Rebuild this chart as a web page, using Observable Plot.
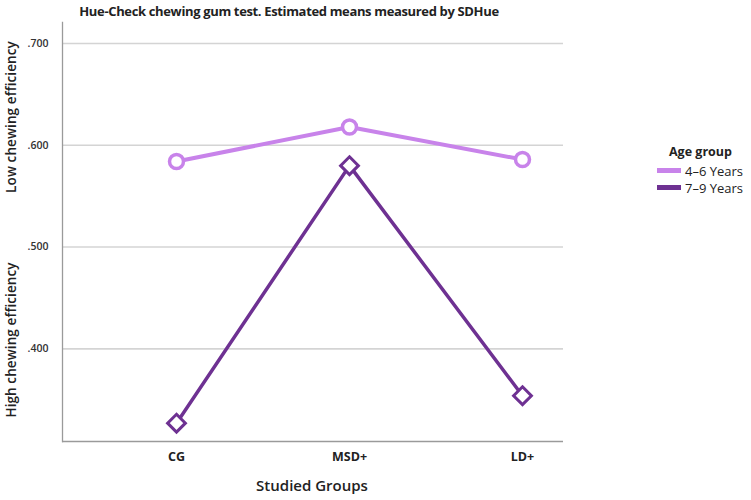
<!DOCTYPE html>
<html>
<head>
<meta charset="utf-8">
<script src="https://cdn.jsdelivr.net/npm/d3@7"></script>
<script src="https://cdn.jsdelivr.net/npm/@observablehq/plot@0.6"></script>
<style>
  html, body { margin: 0; padding: 0; background: #fff; }
  #wrap { position: relative; width: 751px; height: 500px; font-family: "Open Sans", sans-serif; color: #222; }
  #wrap svg { position: absolute; left: 0; top: 0; }
  .t { position: absolute; white-space: nowrap; font-weight: 600; }
  #title { left: 289px; top: 2px; transform: translateX(-50%); font-size: 13px; letter-spacing: -0.35px; font-weight: 700; }
  #xtitle { left: 312px; top: 475px; transform: translateX(-50%); font-size: 15px; }
  .ylab { font-size: 13.5px; letter-spacing: 0.1px; transform: translate(-50%, -50%) rotate(-90deg); left: 11px; }
  #legend { position: absolute; left: 657px; top: 143px; font-size: 13px; }
  #legend .lt { font-weight: 700; font-size: 12.5px; margin-left: 12px; margin-bottom: 2px; }
  #legend .it { display: flex; align-items: center; height: 17px; }
  #legend .sw { width: 24px; height: 5px; margin-right: 4px; }
</style>
</head>
<body>
<div id="wrap">
  <div class="t" id="title">Hue-Check chewing gum test. Estimated means measured by SDHue</div>
  <div class="t ylab" style="top:117px">Low chewing efficiency</div>
  <div class="t ylab" style="top:340px">High chewing efficiency</div>
  <div class="t" id="xtitle">Studied Groups</div>
  <div id="legend"></div>
</div>
<script>
const groups = ["CG", "MSD+", "LD+"];
const series = ["4-6 Years", "7-9 Years"];
const values46 = [0.584, 0.618, 0.586];
const values79 = [0.327, 0.580, 0.354];
const colors = ["#c883ea", "#6e3192"];
const yTicks = [0.4, 0.5, 0.6, 0.7];
const yTickLabels = [".400", ".500", ".600", ".700"];

const data = [];
groups.forEach((g, i) => {
  data.push({group: g, age: series[0], value: values46[i]});
  data.push({group: g, age: series[1], value: values79[i]});
});
const d46 = data.filter(d => d.age === series[0]);
const d79 = data.filter(d => d.age === series[1]);

const W = 751, H = 500;
const mL = 62, mR = 188, mT = 22, mB = 59;

const chart = Plot.plot({
  width: W, height: H,
  marginLeft: mL, marginRight: mR, marginTop: mT, marginBottom: mB,
  style: {fontFamily: "Open Sans, sans-serif", background: "transparent", overflow: "visible"},
  x: {type: "point", domain: groups, range: [176, 522], padding: 0, axis: null},
  y: {domain: [0.309, 0.7206], axis: null},
  marks: [
    Plot.ruleY(yTicks, {stroke: "#d4d4d4", strokeWidth: 1.6}),
    Plot.ruleY([0.309], {stroke: "#9a9a9a", strokeWidth: 1.3}),
    Plot.frame({anchor: "left", stroke: "#9a9a9a", strokeWidth: 1.3}),
    Plot.axisY({ticks: yTicks, label: null, tickSize: 0, tickPadding: 14, tickFormat: (d) => yTickLabels[yTicks.indexOf(d)], fontSize: 10.5, fontWeight: 600, fill: "#333"}),
    Plot.axisX({label: null, tickSize: 0, tickPadding: 11, fontSize: 12.5, fontWeight: 700, fill: "#222"}),
    Plot.line(d46, {x: "group", y: "value", stroke: colors[0], strokeWidth: 4}),
    Plot.line(d79, {x: "group", y: "value", stroke: colors[1], strokeWidth: 3.5}),
    Plot.dot(d46, {x: "group", y: "value", symbol: "circle", r: 7, fill: "white", stroke: colors[0], strokeWidth: 3.5}),
    Plot.dot(d79, {x: "group", y: "value", symbol: "diamond2", r: 8, fill: "white", stroke: colors[1], strokeWidth: 3})
  ]
});
document.getElementById("wrap").prepend(chart);

const lg = document.getElementById("legend");
lg.innerHTML = `<div class="lt">Age group</div>` + series.map((s, i) =>
  `<div class="it"><div class="sw" style="background:${colors[i]}"></div><span>${s.replace("-", "–")}</span></div>`).join("");
</script>
</body>
</html>
